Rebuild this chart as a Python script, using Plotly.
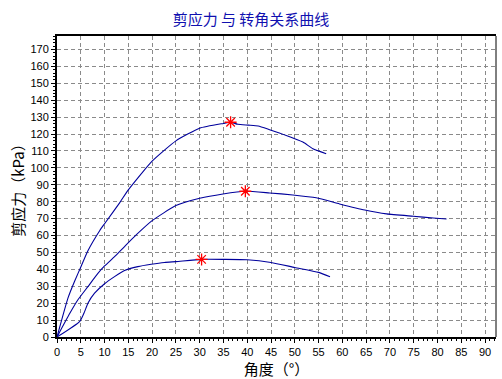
import plotly.graph_objects as go

# ---- data ----
upper_x = [0, 2.3, 3.7, 5.1, 6.5, 9, 10, 13.2, 15, 20, 25, 30, 35, 36.5, 38, 40.2, 42.3, 44.7, 48.2, 51.7, 53.8, 56.6]
upper_y = [0, 23, 33, 42, 51, 63, 67, 79.5, 87, 104, 116, 123.5, 126.3, 127, 125.8, 125.3, 124.8, 122.6, 119.2, 115.3, 111.3, 108.4]

middle_x = [0, 2.7, 4.4, 6.5, 8.6, 10, 12.1, 14.2, 16.7, 20, 25, 30, 34.9, 39.6, 44.7, 49.6, 54.5, 59.4, 64.7, 69.3, 74.9, 79.1, 81.9]
middle_y = [0, 14, 22, 29.8, 37.6, 42, 47.5, 53.5, 60.5, 68.8, 77.7, 82, 84.6, 86.2, 85.2, 84, 82.3, 78.7, 75.1, 72.8, 71.4, 70.4, 69.8]

lower_x = [0, 4.8, 5.8, 6.5, 7.9, 10, 12.1, 14.2, 17, 19.8, 22.6, 25, 30.4, 35, 40, 45, 50, 55, 57.4]
lower_y = [0, 9.3, 15, 20, 25.9, 31.5, 35.7, 39.3, 41.6, 43, 44.1, 44.6, 45.9, 45.9, 45.7, 44.1, 41.1, 38.2, 35.6]

peak_x = [36.5, 39.6, 30.4]
peak_y = [127, 86.2, 45.9]

x_ticks = list(range(0, 91, 5))
y_ticks = list(range(0, 171, 10))

title_text = "剪应力 与 转角关系曲线"
x_title = "角度（°）"
y_title = "剪应力（kPa）"

LINE = "#00009C"
CJK = "Noto Sans CJK SC, sans-serif"

fig = go.Figure()
for xs, ys in [(upper_x, upper_y), (middle_x, middle_y), (lower_x, lower_y)]:
    fig.add_trace(go.Scatter(x=xs, y=ys, mode="lines",
                             line=dict(color=LINE, width=1.1, shape="spline", smoothing=0.5),
                             hoverinfo="skip", showlegend=False))
fig.add_trace(go.Scatter(x=peak_x, y=peak_y, mode="markers",
                         marker=dict(symbol="asterisk", size=10, color="red",
                                     line=dict(color="red", width=1.3)),
                         showlegend=False))

axis_common = dict(
    showgrid=True, gridcolor="#8a8a8a", gridwidth=1, griddash="4px,3px",
    zeroline=False, showline=True, linecolor="black", linewidth=2,
    ticks="outside", ticklen=4, tickcolor="black", tickwidth=1,
    automargin=False,
    tickfont=dict(family="Liberation Sans, Arial, sans-serif", size=11, color="black"),
)

fig.update_layout(
    width=502, height=379,
    margin=dict(l=57, r=6, t=36, b=42),
    paper_bgcolor="white", plot_bgcolor="white",
    title=dict(text=title_text, x=0.5, xanchor="center", y=0.948, yanchor="middle",
               font=dict(family=CJK, size=15, color="#1010B0")),
    xaxis=dict(range=[0, 92.3], tickvals=x_ticks, mirror=True,
               minor=dict(dtick=1, ticklen=2, ticks="outside", tickcolor="black", showgrid=False),
               title=dict(text=x_title, standoff=1,
                          font=dict(family=CJK, size=15, color="black")),
               **axis_common),
    yaxis=dict(range=[0, 178], tickvals=y_ticks, mirror=False,
               minor=dict(dtick=2, ticklen=2, ticks="outside", tickcolor="black", showgrid=False),
               title=dict(text=y_title, standoff=2,
                          font=dict(family=CJK, size=15, color="black")),
               **axis_common),
    shapes=[dict(type="line", xref="paper", yref="paper", x0=1, x1=1, y0=0, y1=1,
                 line=dict(color="black", width=1))],
)

fig.write_html("out.html", config={"displayModeBar": False},
               post_script="document.body.style.margin='0';")
